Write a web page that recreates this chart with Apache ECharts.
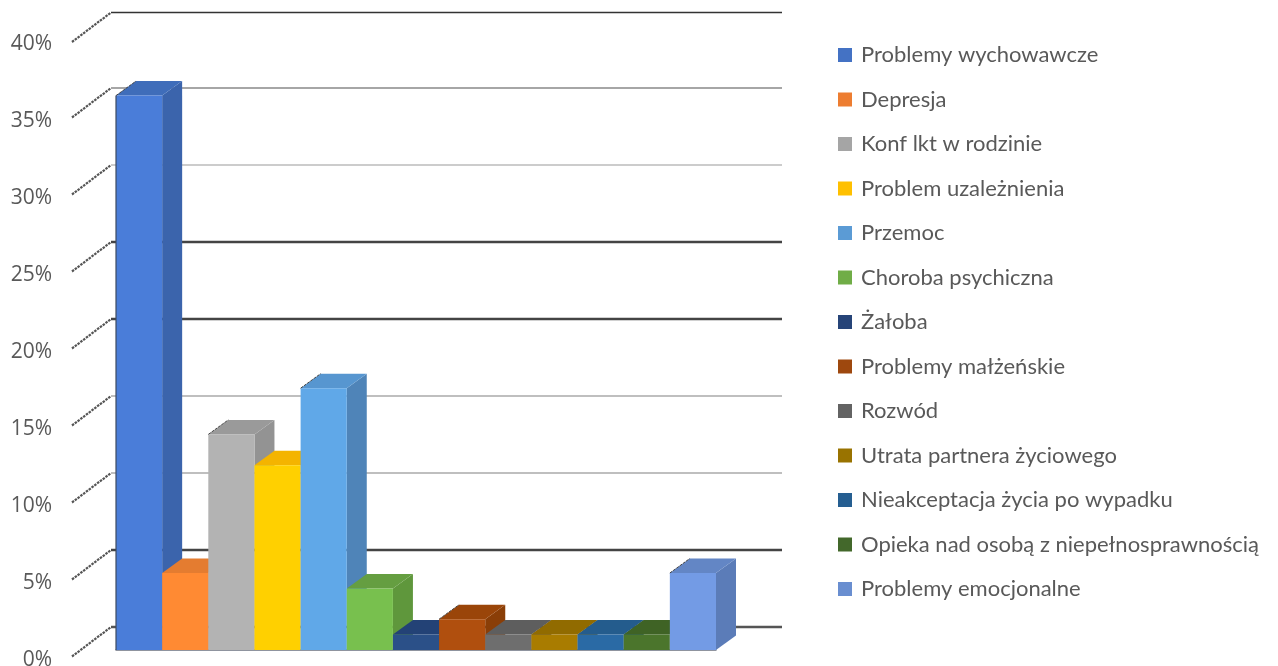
<!DOCTYPE html>
<html>
<head>
<meta charset="utf-8">
<style>html,body{margin:0;padding:0;background:#fff}#c{width:1278px;height:666px}</style>
<script src="https://cdn.jsdelivr.net/npm/echarts@6/dist/echarts.min.js"></script>
</head>
<body>
<div id="c"></div>
<script>
const categories = ["Problemy wychowawcze","Depresja","Konf lkt w rodzinie","Problem uzależnienia","Przemoc","Choroba psychiczna","Żałoba","Problemy małżeńskie","Rozwód","Utrata partnera życiowego","Nieakceptacja życia po wypadku","Opieka nad osobą z niepełnosprawnością","Problemy emocjonalne"];
const values = [36,5,14,12,17,4,1,2,1,1,1,1,5];
const tickValues = [0,5,10,15,20,25,30,35,40];

const legendColors = ['#4472C4','#ED7D31','#A5A5A5','#FFC000','#5B9BD5','#70AD47','#264478','#9E480E','#636363','#997300','#255E91','#43682B','#698ED0'];
const faceColors = ['#4A7DD9','#FF8A33','#B3B3B3','#FFD000','#60A8E8','#78C04E','#2B5088','#B04F0E','#6E6E6E','#A97C00','#2A6AA5','#4B752C','#739BE5'];
const topColors  = ['#3F6DBA','#E47C30','#9A9A9A','#F4B400','#5796D0','#659E41','#234276','#9A4509','#5E5E5E','#916B00','#245C8D','#3F6325','#6386C5'];
const sideColors = ['#3B64AC','#D6722A','#939393','#E5A800','#4F84B8','#5F973C','#1F3C6C','#8A3E07','#555555','#836100','#20527E','#385822','#5B7CB8'];
const gridStyles = {0:['#555',2.5],5:['#444',2.5],10:['#aaa',1.5],15:['#aaa',1.5],20:['#444',2.5],25:['#444',2.5],30:['#bbb',1.5],35:['#888',1.5],40:['#333',1.5]};

const BAR_DX = 20, BAR_DY = -14.5;
const WALL_DX = 66, WALL_DY = -23;

function renderGrid(params, api) {
  const v = api.value(1);
  const p = api.coord([0, v]);
  const band = api.size([1, 0])[0];
  const left = p[0] - band / 2;
  const right = left + band * categories.length;
  const y = p[1] + WALL_DY + (v === 40 ? 1.5 : 0);
  const s = gridStyles[v];
  return { type: 'group', children: [
    { type: 'line', shape: {x1: left - 5, y1: y, x2: right + WALL_DX, y2: y},
      style: {stroke: s[0], lineWidth: s[1]} },
    { type: 'line', shape: {x1: left - 44, y1: y + 29.5, x2: left - 5, y2: y},
      style: {stroke: '#555', lineWidth: 2.2, lineDash: [2.5, 1]} }
  ]};
}

function renderBar(params, api) {
  const i = api.value(0), v = api.value(1);
  const t = api.coord([i, v]), b = api.coord([i, 0]);
  const w = api.size([1, 0])[0];
  const x0 = t[0] - w / 2, x1 = x0 + w, yt = t[1], yb = b[1];
  const children = [
    { type: 'polygon', shape: {points: [[x1, yt], [x1 + BAR_DX, yt + BAR_DY], [x1 + BAR_DX, yb + BAR_DY], [x1, yb]]}, style: {fill: sideColors[i]} },
    { type: 'polygon', shape: {points: [[x0, yt], [x0 + BAR_DX, yt + BAR_DY], [x1 + BAR_DX, yt + BAR_DY], [x1, yt]]}, style: {fill: topColors[i]} },
    { type: 'rect', shape: {x: x0, y: yt, width: w, height: yb - yt}, style: {fill: faceColors[i]} }
  ];
  if (i === 0 || values[i] > values[i - 1]) {
    children.push({ type: 'line', shape: {x1: x0, y1: yt, x2: x0 + BAR_DX, y2: yt + BAR_DY},
      style: {stroke: '#444', lineWidth: 1, lineDash: [3, 1]} });
  }
  if (i === 0) {
    children.push({ type: 'line', shape: {x1: x0, y1: yt, x2: x0, y2: yb}, style: {stroke: '#3c4a60', lineWidth: 1.2} });
  }
  return { type: 'group', children };
}

const series = [{
  type: 'custom', silent: true, z: 1,
  data: tickValues.map(v => [0, v]),
  encode: {x: 0, y: 1},
  renderItem: renderGrid
}];
categories.forEach((name, i) => {
  series.push({
    name, type: 'custom', z: 2 + i, silent: true,
    itemStyle: {color: legendColors[i]},
    data: [[i, values[i]]],
    encode: {x: 0, y: 1},
    renderItem: renderBar
  });
});

const FONT = 'Lato';
const chart = echarts.init(document.getElementById('c'), null, {renderer: 'canvas'});
chart.setOption({
  animation: false,
  color: legendColors,
  textStyle: {fontFamily: FONT},
  grid: {left: 116, right: 562, top: 34, bottom: 16, containLabel: false, outerBoundsMode: 'none'},
  xAxis: {
    type: 'category', data: categories,
    axisLabel: {show: false}, axisTick: {show: false},
    axisLine: {show: true, lineStyle: {color: '#6b7280', width: 1.5}},
    splitLine: {show: false}
  },
  yAxis: {
    type: 'value', min: 0, max: 40, interval: 5,
    axisLine: {show: false}, axisTick: {show: false}, splitLine: {show: false},
    axisLabel: {
      formatter: '{value}%', color: '#595959', fontFamily: 'Open Sans', fontSize: 21,
      margin: 64, verticalAlign: 'top', lineHeight: 20
    }
  },
  legend: {
    orient: 'vertical', left: 838, top: 43, padding: 0,
    data: categories, icon: 'rect', itemWidth: 14, itemHeight: 14, itemGap: 20.5,
    selectedMode: false,
    textStyle: {color: '#595959', fontFamily: FONT, fontSize: 22, lineHeight: 24, padding: [0, 0, 0, 4]}
  },
  series
});
</script>
</body>
</html>
